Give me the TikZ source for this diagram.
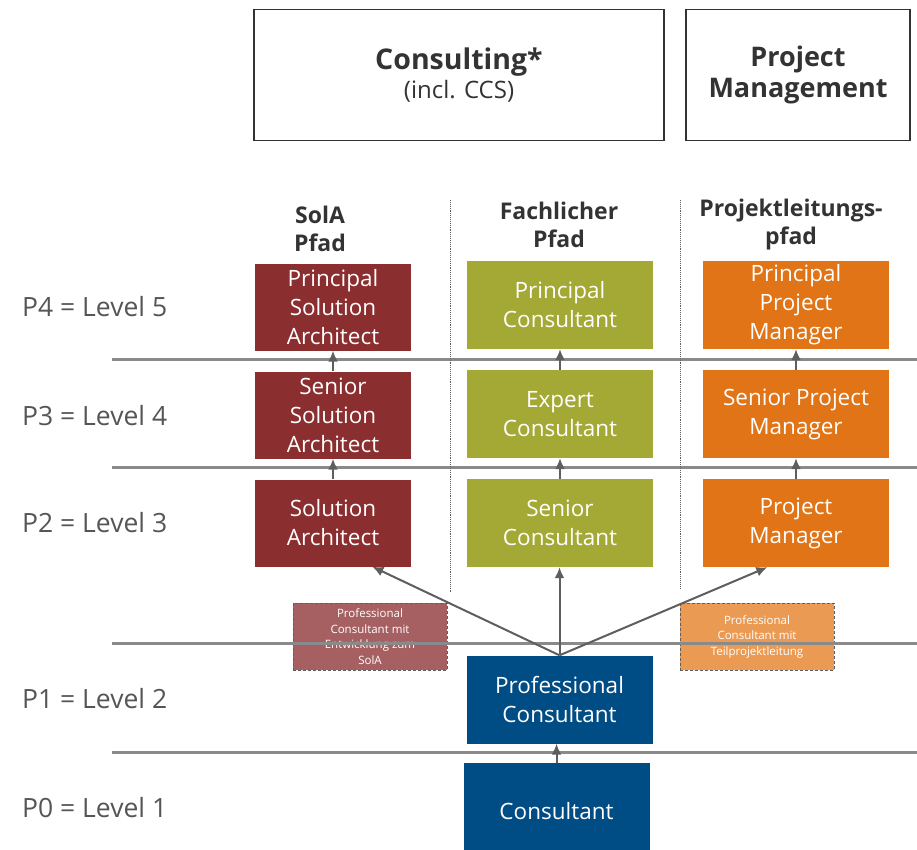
\documentclass[tikz,border=0pt]{standalone}
\usepackage{fontspec}
\setmainfont{Open Sans}
\usetikzlibrary{arrows.meta}

\definecolor{solared}{HTML}{8B2E30}
\definecolor{fachgreen}{HTML}{A4A935}
\definecolor{plorange}{HTML}{E07416}
\definecolor{pcblue}{HTML}{004C84}
\definecolor{optred}{HTML}{A76062}
\definecolor{optorange}{HTML}{EA9A52}
\definecolor{linegray}{HTML}{8A8A8A}
\definecolor{arrowgray}{HTML}{5E5E5E}
\definecolor{headgray}{HTML}{333333}
\definecolor{lvlgray}{HTML}{555555}

\begin{document}
\begin{tikzpicture}[x=1pt,y=-1pt,
  head/.style={text=headgray,font=\bfseries\fontsize{23}{28}\selectfont,align=center,inner sep=0pt},
  lvl/.style={text=lvlgray,font=\fontsize{26.5}{30}\selectfont,anchor=west,inner sep=0pt},
  role/.style={text=white,font=\fontsize{22.5}{29}\selectfont,align=center,inner sep=0pt},
  sola/.style={role,fill=solared,minimum width=156pt,minimum height=87pt},
  fach/.style={role,fill=fachgreen,minimum width=186pt,minimum height=88pt},
  pl/.style={role,fill=plorange,minimum width=186pt,minimum height=88pt},
  pc/.style={role,fill=pcblue,minimum width=186pt,minimum height=88pt},
  option/.style={text=white,font=\fontsize{11.5}{15.5}\selectfont,align=center,draw=arrowgray,densely dashed,line width=0.9pt,minimum width=154pt,minimum height=67pt,inner sep=0pt},
  level/.style={draw=linegray,line width=3pt},
  up/.style={draw=arrowgray,line width=2pt,-{Latex[length=11pt,width=10pt]}}]
\useasboundingbox (0,0) rectangle (917,849);

% units
\node[draw=headgray,line width=1.8pt,minimum width=410pt,minimum height=131pt,align=center,text=headgray] (cons) at (459,75)
  {{\bfseries\fontsize{28.5}{30}\selectfont Consulting*}\\[3pt]{\fontsize{24}{28}\selectfont(incl. CCS)}};
\node[draw=headgray,line width=1.8pt,minimum width=224pt,minimum height=131pt,align=center,text=headgray,font=\bfseries\fontsize{27}{31}\selectfont] (pm) at (798,75)
  {Project\\Management};

% paths
\node[head] (hsola) at (320,229) {SolA\\Pfad};
\node[head] (hfach) at (559,225) {Fachlicher\\Pfad};
\node[head] (hpl) at (791,225) {Projektleitungs-\\pfad};

% levels
\node[lvl] (l5) at (22,307) {P4 = Level 5};
\node[lvl] (l4) at (22,416) {P3 = Level 4};
\node[lvl] (l3) at (22,523) {P2 = Level 3};
\node[lvl] (l2) at (22,699) {P1 = Level 2};
\node[lvl] (l1) at (22,808) {P0 = Level 1};

\node[sola] (sa4) at (333,307) {Principal\\Solution\\Architect};
\node[sola] (sa3) at (333,415) {Senior\\Solution\\Architect};
\node[sola] (sa2) at (333,523) {Solution\\Architect};
\node[fach] (fc4) at (560,305) {Principal\\Consultant};
\node[fach] (fc3) at (560,414) {Expert\\Consultant};
\node[fach] (fc2) at (560,523) {Senior\\Consultant};
\node[pl] (pl4) at (796,305) {Principal\\Project\\Manager};
\node[pl] (pl3) at (796,414) {Senior Project\\Manager};
\node[pl] (pl2) at (796,523) {Project\\Manager};
\node[pc] (pc2) at (559.5,699.5) {Professional\\Consultant};
\node[pc,minimum height=96pt] (pc1) at (556.5,811) {Consultant};

\node[option,fill=optred] (osa) at (370,636.5) {Professional\\Consultant mit\\Entwicklung zum\\SolA};
\node[option,fill=optorange] (opl) at (757,636.5) {Professional\\Consultant mit\\Teilprojektleitung};

% grid
\draw[level] (112,359) -- (917,359);
\draw[level] (112,467) -- (917,467);
\draw[level] (112,643) -- (917,643);
\draw[level] (112,752) -- (917,752);
\draw[arrowgray,densely dotted,line width=0.9pt] (450,200) -- (450,592)
      (680,200) -- (680,588);

% arrows
\draw[up] (sa3) -- (sa4);
\draw[up] (sa2) -- (sa3);
\draw[up] (fc3) -- (fc4);
\draw[up] (fc2) -- (fc3);
\draw[up] (pl3) -- (pl4);
\draw[up] (pl2) -- (pl3);
\draw[up] (pc1.north) -- (pc1.north |- pc2.south);
\draw[up] (pc2.north) -- (sa2.-48);
\draw[up] (pc2.north) -- (fc2.south -| pc2.north);
\draw[up] (pc2.north) -- (pl2.-123);
\end{tikzpicture}
\end{document}
